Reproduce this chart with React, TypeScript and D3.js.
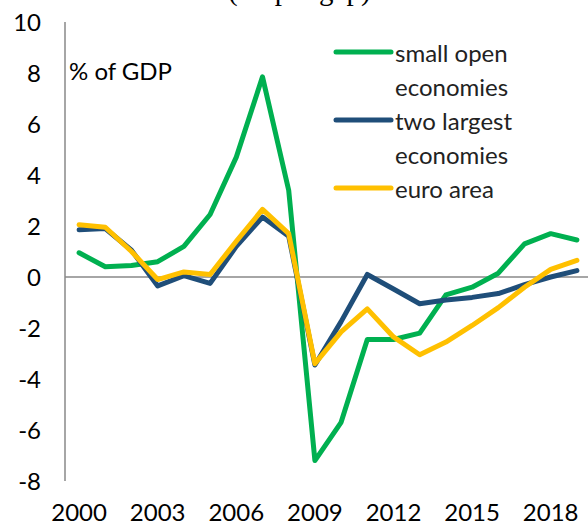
import { useEffect, useRef } from "react"
import * as d3 from "d3"

// years on the x axis
const years = d3.range(2000, 2020)
const yearLabels = [2000, 2003, 2006, 2009, 2012, 2015, 2018]
const yTicks = [10, 8, 6, 4, 2, 0, -2, -4, -6, -8]

// % of GDP
const smallOpen = [0.95, 0.4, 0.45, 0.6, 1.2, 2.45, 4.7, 7.85, 3.4, -7.2, -5.7, -2.45, -2.45, -2.2, -0.7, -0.4, 0.15, 1.3, 1.7, 1.45]
const twoLargest = [1.85, 1.9, 1.05, -0.35, 0.05, -0.25, 1.2, 2.35, 1.6, -3.45, -1.75, 0.1, -0.47, -1.05, -0.9, -0.8, -0.65, -0.3, 0.0, 0.25]
const euroArea = [2.05, 1.95, 1.0, -0.1, 0.2, 0.1, 1.4, 2.65, 1.7, -3.4, -2.15, -1.25, -2.35, -3.05, -2.55, -1.9, -1.2, -0.4, 0.3, 0.65]

const seriesNames = [["small open", "economies"], ["two largest", "economies"], ["euro area"]]
const seriesColors = ["#00B050", "#1F4E79", "#FFC000"]

const FONT = "Lato, 'Open Sans', sans-serif"

const App = () => {
  const svgRef = useRef<SVGSVGElement>(null)

  useEffect(() => {
    const svg = d3.select(svgRef.current)
    svg.selectAll("*").remove()

    const x = d3.scalePoint<number>().domain(years).range([66, 590]).padding(0.5)
    const y = d3.scaleLinear().domain([-8, 10]).range([481, 22])

    // title, only the descenders show at the top of the picture
    svg.append("text")
      .attr("x", 228)
      .attr("y", 0)
      .attr("font-family", "'Liberation Serif', 'Times New Roman', serif")
      .attr("font-size", 29)
      .attr("fill", "#000")
      .text("(output gap)")

    // y axis line and zero line
    svg.append("line")
      .attr("x1", 65).attr("x2", 65)
      .attr("y1", y(10)).attr("y2", y(-8))
      .attr("stroke", "#898989").attr("stroke-width", 1.5)
    svg.append("line")
      .attr("x1", 65).attr("x2", 590)
      .attr("y1", y(0)).attr("y2", y(0))
      .attr("stroke", "#898989").attr("stroke-width", 1.5)

    svg.append("g")
      .selectAll("text")
      .data(yTicks)
      .join("text")
      .attr("x", 41)
      .attr("y", d => y(d) + 8.5)
      .attr("text-anchor", "end")
      .attr("font-family", FONT)
      .attr("font-size", 24)
      .attr("fill", "#000")
      .text(d => d)

    svg.append("g")
      .selectAll("text")
      .data(yearLabels)
      .join("text")
      .attr("x", d => x(d)!)
      .attr("y", 521)
      .attr("text-anchor", "middle")
      .attr("font-family", FONT)
      .attr("font-size", 24)
      .attr("fill", "#000")
      .text(d => d)

    svg.append("text")
      .attr("x", 69)
      .attr("y", 80)
      .attr("font-family", FONT)
      .attr("font-size", 24)
      .attr("fill", "#000")
      .text("% of GDP")

    const line = d3.line<number>()
      .x((d, i) => x(years[i])!)
      .y(d => y(d))

    // green first, then blue, yellow on top
    ;[smallOpen, twoLargest, euroArea].forEach((values, i) => {
      svg.append("path")
        .datum(values)
        .attr("fill", "none")
        .attr("stroke", seriesColors[i])
        .attr("stroke-width", 5)
        .attr("stroke-linejoin", "round")
        .attr("stroke-linecap", "round")
        .attr("d", line)
    })

    // legend
    const legendRows = [0, 2, 4]
    const legend = svg.append("g")
    seriesNames.forEach((lines, i) => {
      const baseline = 61.5 + legendRows[i] * 34
      legend.append("line")
        .attr("x1", 336).attr("x2", 391)
        .attr("y1", baseline - 9.5).attr("y2", baseline - 9.5)
        .attr("stroke", seriesColors[i])
        .attr("stroke-width", 5)
        .attr("stroke-linecap", "round")
      lines.forEach((t, j) => {
        legend.append("text")
          .attr("x", 395)
          .attr("y", baseline + j * 34)
          .attr("font-family", FONT)
          .attr("font-size", 24)
          .attr("fill", "#222")
          .text(t)
      })
    })
  }, [])

  return (
    <svg
      ref={svgRef}
      width={588}
      height={522}
      style={{ position: "absolute", left: 0, top: 0, background: "#fff" }}
    />
  )
}

export default App
